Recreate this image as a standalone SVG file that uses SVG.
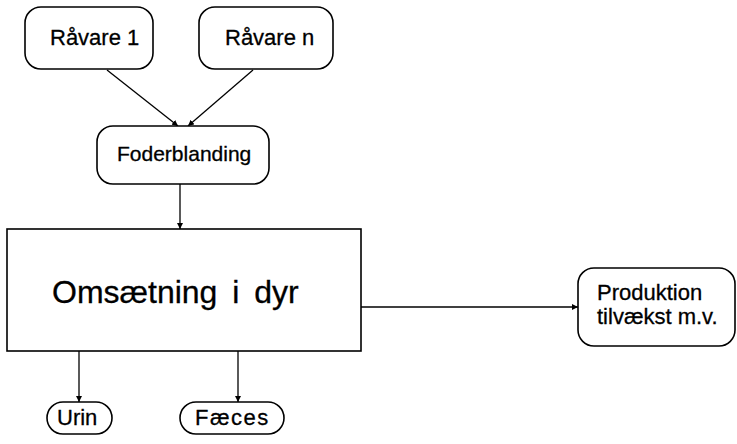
<svg xmlns="http://www.w3.org/2000/svg" width="737" height="444" viewBox="0 0 737 444">
<style>
.box{fill:#fff;stroke:#000;stroke-width:1.6}
.t{font-family:"Liberation Sans",Arial,sans-serif;font-size:22px;fill:#000;stroke:#000;stroke-width:0.3}
.big{font-family:"Liberation Sans",Arial,sans-serif;font-size:32px;fill:#000;stroke:#000;stroke-width:0.3;word-spacing:6px}
.c{fill:none;stroke:#000;stroke-width:1.3}
</style>
<defs>
<marker id="ah" viewBox="0 0 10 10" refX="10" refY="5" markerWidth="6" markerHeight="6" orient="auto" markerUnits="userSpaceOnUse">
<path d="M0,0 L10,5 L0,10 z" fill="#000"/>
</marker>
</defs>
<rect width="737" height="444" fill="#fff"/>
<g id="connectors">
<line class="c" x1="107" y1="70" x2="178" y2="126" marker-end="url(#ah)"/>
<line class="c" x1="253" y1="70" x2="188" y2="126" marker-end="url(#ah)"/>
<line class="c" x1="180" y1="184" x2="180" y2="229" marker-end="url(#ah)"/>
<line class="c" x1="361" y1="307" x2="578" y2="307" marker-end="url(#ah)"/>
<line class="c" x1="79" y1="351" x2="79" y2="402" marker-end="url(#ah)"/>
<line class="c" x1="238" y1="351" x2="238" y2="402" marker-end="url(#ah)"/>
</g>
<g id="raavare1">
<rect class="box" x="25" y="7" width="128" height="62" rx="16"/>
<text class="t" x="50" y="45">Råvare 1</text>
</g>
<g id="raavaren">
<rect class="box" x="199" y="7" width="134" height="62" rx="16"/>
<text class="t" x="225" y="45">Råvare n</text>
</g>
<g id="foderblanding">
<rect class="box" x="97" y="126" width="172" height="58" rx="16"/>
<text class="t" x="117" y="161" style="font-size:21px">Foderblanding</text>
</g>
<g id="omsaetning">
<rect class="box" x="7" y="229" width="354" height="122"/>
<text class="big" x="52" y="303">Omsætning i dyr</text>
</g>
<g id="produktion">
<rect class="box" x="578" y="268" width="157" height="78" rx="16"/>
<text class="t" x="597" y="300">Produktion</text>
<text class="t" x="597" y="324">tilvækst m.v.</text>
</g>
<g id="urin">
<rect class="box" x="47" y="402" width="65" height="32" rx="16"/>
<text class="t" x="57" y="425">Urin</text>
</g>
<g id="faeces">
<rect class="box" x="180" y="402" width="104" height="32" rx="16"/>
<text class="t" x="195" y="425" style="letter-spacing:1.5px">Fæces</text>
</g>
</svg>
